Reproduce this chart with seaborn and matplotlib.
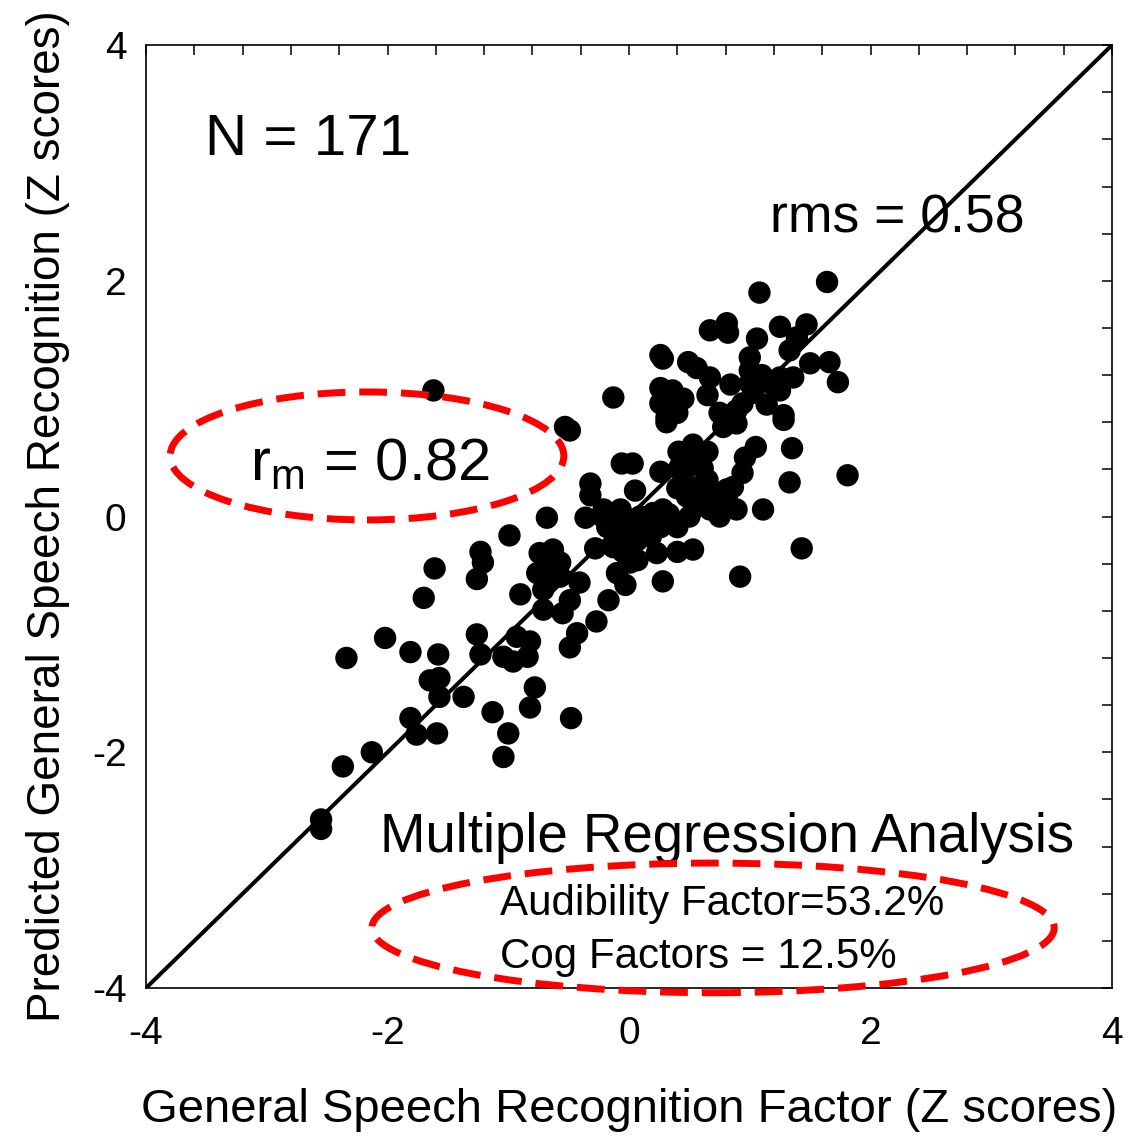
import matplotlib
matplotlib.use("Agg")
import matplotlib.pyplot as plt
from matplotlib.patches import Ellipse
from matplotlib.ticker import MultipleLocator, FixedLocator
import seaborn as sns
import pandas as pd

# ---- data ----
measured_z = [
    -2.55, -2.55, -2.37, -2.13, -2.34, -2.02, -1.81, -1.58, -1.81, -1.76,
    -1.59, -1.65, -1.57, -1.57, -1.37, -1.70, -1.61, -1.26, -1.23, -1.13,
    -1.00, -1.04, -1.23, -1.21, -1.26, -0.99, -0.93, -0.82, -1.04, -0.96,
    -0.84, -0.78, -0.82, -0.90, -0.68, -0.74, -0.63, -0.57, -0.76, -0.68,
    -0.57, -0.71, -0.71, -0.55, -0.49, -0.41, -0.17, -0.27, -0.43, -0.49,
    -0.48, -1.62, -0.49, -0.53, -0.32, -0.32, -0.13, -0.06, 0.03, 0.26,
    0.05, -0.36, -0.21, -0.07, -0.18, -0.10, 0.01, 0.09, 0.12, 0.20,
    0.28, 0.26, 0.36, 0.40, 0.50, -0.13, 0.07, 0.18, 0.23, 0.40,
    0.53, -0.10, 0.01, 0.07, -0.03, 0.28, 0.41, 0.53, 0.65, 0.42,
    0.61, 0.65, 0.40, 0.48, 0.59, 0.67, 0.75, 0.81, 0.89, 1.05,
    0.96, 0.94, 0.86, 0.81, 1.11, 1.43, 0.92, 1.35, 1.33, 1.81,
    0.31, 0.78, 0.89, 1.28, 1.64, 1.08, 0.67, 0.81, 0.82, 1.06,
    1.25, 1.47, 1.39, 1.33, 0.26, 0.28, 0.49, 0.56, 0.67, 1.00,
    1.00, 1.00, 1.03, 0.84, 1.50, 1.66, 1.73, 1.25, 1.19, 1.36,
    1.25, 1.14, 1.28, 0.26, 0.36, 0.45, 0.26, 0.34, 0.31, 0.40,
    0.65, 0.75, 0.84, 0.89, 0.94, -0.22, 0.00, -0.28, 0.55, 0.58,
    0.45, 0.70, -0.62, -0.66, 0.15, 0.33, 1.10, 0.40, -0.05, 0.55,
    0.72,
]
predicted_z = [
    -2.57, -2.65, -2.12, -2.00, -1.20, -1.03, -1.15, -1.17, -1.71, -1.85,
    -1.84, -1.39, -1.37, -1.53, -1.53, -0.69, -0.44, -1.00, -1.17, -1.66,
    -1.84, -2.04, -0.30, -0.39, -0.53, -0.16, -1.02, -1.06, -1.19, -1.23,
    -1.19, -1.45, -1.62, -0.66, -0.01, -0.31, -0.28, -0.39, -0.48, -0.54,
    -0.51, -0.62, -0.79, -0.82, -0.71, -0.56, -0.71, -0.89, -0.99, -1.11,
    -1.71, 1.07, 0.73, 0.76, 0.28, 0.18, 1.01, 0.45, 0.45, 0.38,
    0.22, -0.01, 0.06, 0.06, -0.09, -0.11, -0.03, 0.00, -0.11, 0.03,
    0.06, -0.09, -0.03, -0.09, 0.00, -0.26, -0.20, -0.17, -0.31, -0.30,
    -0.28, -0.48, -0.39, -0.37, -0.58, -0.55, 0.55, 0.61, 0.55, 0.42,
    0.41, 0.31, 0.24, 0.17, 0.14, 0.06, 0.00, 0.17, 0.06, 0.59,
    0.50, 0.37, 0.25, 0.23, 0.06, -0.27, -0.51, 0.58, 0.29, 0.35,
    0.80, 0.76, 0.79, 0.82, 1.99, 1.90, 1.58, 1.64, 1.56, 1.51,
    1.61, 1.63, 1.52, 1.41, 1.37, 1.34, 1.31, 1.26, 1.18, 1.35,
    1.24, 1.13, 1.05, 1.12, 1.30, 1.31, 1.14, 1.18, 1.12, 1.18,
    1.07, 0.95, 0.86, 1.09, 1.07, 1.00, 0.96, 0.90, 0.84, 0.88,
    1.03, 0.88, 0.84, 0.90, 0.96, 0.00, -0.13, -0.27, 0.45, 0.25,
    0.33, 0.20, -0.45, -0.40, -0.05, 0.02, 1.20, 0.95, -0.30, 0.08,
    0.12,
]
major_ticks = [-4, -2, 0, 2, 4]
tick_labels = ["-4", "-2", "0", "2", "4"]
axis_limits = [-4, 4]

x_title = "General Speech Recognition Factor (Z scores)"
y_title = "Predicted General Speech Recognition (Z scores)"
n_text = "N = 171"
rms_text = "rms = 0.58"
r_text = r"r$_{\mathrm{m}}$ = 0.82"
mra_title = "Multiple Regression Analysis"
mra_lines = ["Audibility Factor=53.2%", "Cog Factors = 12.5%"]

df = pd.DataFrame({"measured": measured_z, "predicted": predicted_z})

# ---- style ----
sns.set_style("white")
plt.rcParams["font.family"] = ["Liberation Sans", "DejaVu Sans"]
plt.rcParams["mathtext.fontset"] = "custom"
plt.rcParams["mathtext.rm"] = "Liberation Sans"
plt.rcParams["mathtext.it"] = "Liberation Sans"
plt.rcParams["text.color"] = "black"
plt.rcParams["axes.labelcolor"] = "black"
plt.rcParams["xtick.color"] = "black"
plt.rcParams["ytick.color"] = "black"

fig = plt.figure(figsize=(11.3, 11.38), dpi=100)
ax = fig.add_axes([0.1292, 0.1318, 0.8549, 0.8286])

sns.scatterplot(data=df, x="measured", y="predicted", ax=ax, color="black",
                s=260, edgecolor="none", linewidth=0, zorder=3, legend=False)

ax.axline((0, 0), slope=1, color="black", lw=2.9, zorder=2)

ax.set_xlim(axis_limits)
ax.set_ylim(axis_limits)
ax.xaxis.set_major_locator(FixedLocator(major_ticks))
ax.yaxis.set_major_locator(FixedLocator(major_ticks))
ax.set_xticklabels(tick_labels)
ax.set_yticklabels(tick_labels)
ax.xaxis.set_minor_locator(MultipleLocator(0.4))
ax.yaxis.set_minor_locator(MultipleLocator(0.4))
ax.tick_params(axis="both", which="both", direction="in", top=True, right=True,
               length=7, width=1.1, color="black")
ax.tick_params(axis="x", which="major", labelsize=28, pad=20)
ax.tick_params(axis="y", which="major", labelsize=28, pad=14)
for sp in ax.spines.values():
    sp.set_linewidth(1.2)
    sp.set_color("black")

ax.set_xlabel(x_title, fontsize=34, labelpad=26)
ax.set_ylabel(y_title, fontsize=33, labelpad=16)

# ---- annotations ----
ax.text(-3.51, 3.07, n_text, fontsize=42, ha="left", va="baseline")
ax.text(1.17, 2.41, rms_text, fontsize=38.5, ha="left", va="baseline")
ax.text(-3.14, 0.30, r_text, fontsize=43, ha="left", va="baseline")
ax.text(-2.06, -2.845, mra_title, fontsize=39.3, ha="left", va="baseline")
ax.text(-1.07, -3.38, mra_lines[0], fontsize=30.3, ha="left", va="baseline")
ax.text(-1.07, -3.83, mra_lines[1], fontsize=30.3, ha="left", va="baseline")

dash = (0, (4, 2))
ax.add_patch(Ellipse((-2.17, 0.514), 3.26, 1.086, fill=False, edgecolor="#ff0000",
                     lw=5.0, linestyle=dash, zorder=4, clip_on=False))
ax.add_patch(Ellipse((0.696, -3.49), 5.65, 1.10, fill=False, edgecolor="#ff0000",
                     lw=5.0, linestyle=dash, zorder=4, clip_on=False))

fig.savefig("out.png", dpi=100)
